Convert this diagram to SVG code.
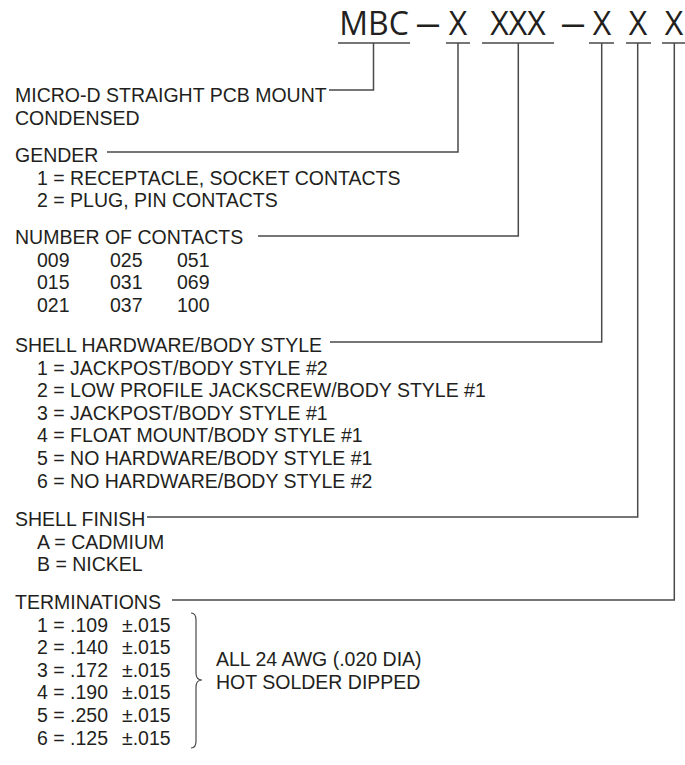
<svg xmlns="http://www.w3.org/2000/svg" width="685" height="765" viewBox="0 0 685 765">
<style>
text{font-family:"Liberation Sans",Arial,sans-serif;fill:#231f20;}
.t{font-size:19.5px;}
.h{font-family:"Open Sans","Liberation Sans",sans-serif;font-size:32px;}
.ln{stroke:#4a4a4a;stroke-width:1.5;fill:none;}
</style>
<rect width="685" height="765" fill="#fff"/>
<g id="part-number">
<text class="h" x="374" y="35" text-anchor="middle">MBC</text>
<text class="h" x="416" y="35" textLength="24" lengthAdjust="spacingAndGlyphs">—</text>
<text class="h" x="458" y="35" text-anchor="middle">X</text>
<text class="h" x="518" y="35" text-anchor="middle">XXX</text>
<text class="h" x="561" y="35" textLength="24" lengthAdjust="spacingAndGlyphs">—</text>
<text class="h" x="602" y="35" text-anchor="middle">X</text>
<text class="h" x="638" y="35" text-anchor="middle">X</text>
<text class="h" x="674" y="35" text-anchor="middle">X</text>
</g>
<g id="connectors" class="ln">
<path d="M338 43H410M373.5 43V90H329"/>
<path d="M446 43H470M458 43V152H107"/>
<path d="M482 43H554M518.3 43V236H258"/>
<path d="M589 43H614M601.7 43V342H330"/>
<path d="M626 43H651M637.7 43V517H147"/>
<path d="M662 43H685M674.3 43V600H172"/>
</g>
<g id="series">
<text class="t" x="15" y="102">MICRO-D STRAIGHT PCB MOUNT</text>
<text class="t" x="15" y="124.6">CONDENSED</text>
</g>
<g id="gender">
<text class="t" x="15" y="162">GENDER</text>
<text class="t" x="37" y="184.6">1 = RECEPTACLE, SOCKET CONTACTS</text>
<text class="t" x="37" y="207.2">2 = PLUG, PIN CONTACTS</text>
</g>
<g id="contacts">
<text class="t" x="15" y="244">NUMBER OF CONTACTS</text>
<text class="t" y="266.6"><tspan x="37">009</tspan><tspan x="110">025</tspan><tspan x="177">051</tspan></text>
<text class="t" y="289.2"><tspan x="37">015</tspan><tspan x="110">031</tspan><tspan x="177">069</tspan></text>
<text class="t" y="311.8"><tspan x="37">021</tspan><tspan x="110">037</tspan><tspan x="177">100</tspan></text>
</g>
<g id="hardware">
<text class="t" x="15" y="352">SHELL HARDWARE/BODY STYLE</text>
<text class="t" x="37" y="374.6">1 = JACKPOST/BODY STYLE #2</text>
<text class="t" x="37" y="397.2">2 = LOW PROFILE JACKSCREW/BODY STYLE #1</text>
<text class="t" x="37" y="419.8">3 = JACKPOST/BODY STYLE #1</text>
<text class="t" x="37" y="442.4">4 = FLOAT MOUNT/BODY STYLE #1</text>
<text class="t" x="37" y="465">5 = NO HARDWARE/BODY STYLE #1</text>
<text class="t" x="37" y="487.6">6 = NO HARDWARE/BODY STYLE #2</text>
</g>
<g id="finish">
<text class="t" x="15" y="526">SHELL FINISH</text>
<text class="t" x="37" y="548.6">A = CADMIUM</text>
<text class="t" x="37" y="571.2">B = NICKEL</text>
</g>
<g id="terminations">
<text class="t" x="15" y="609">TERMINATIONS</text>
<text class="t" y="631.6"><tspan x="37">1 = .109</tspan><tspan x="122">±.015</tspan></text>
<text class="t" y="654.2"><tspan x="37">2 = .140</tspan><tspan x="122">±.015</tspan></text>
<text class="t" y="676.8"><tspan x="37">3 = .172</tspan><tspan x="122">±.015</tspan></text>
<text class="t" y="699.4"><tspan x="37">4 = .190</tspan><tspan x="122">±.015</tspan></text>
<text class="t" y="722"><tspan x="37">5 = .250</tspan><tspan x="122">±.015</tspan></text>
<text class="t" y="744.6"><tspan x="37">6 = .125</tspan><tspan x="122">±.015</tspan></text>
<path class="ln" style="stroke-width:1.2" d="M191 613Q196 613 196 620V673Q196 680 202 680Q196 680 196 687V741Q196 748 191 748"/>
<text class="t" x="216" y="666">ALL 24 AWG (.020 DIA)</text>
<text class="t" x="216" y="688.6">HOT SOLDER DIPPED</text>
</g>
</svg>
